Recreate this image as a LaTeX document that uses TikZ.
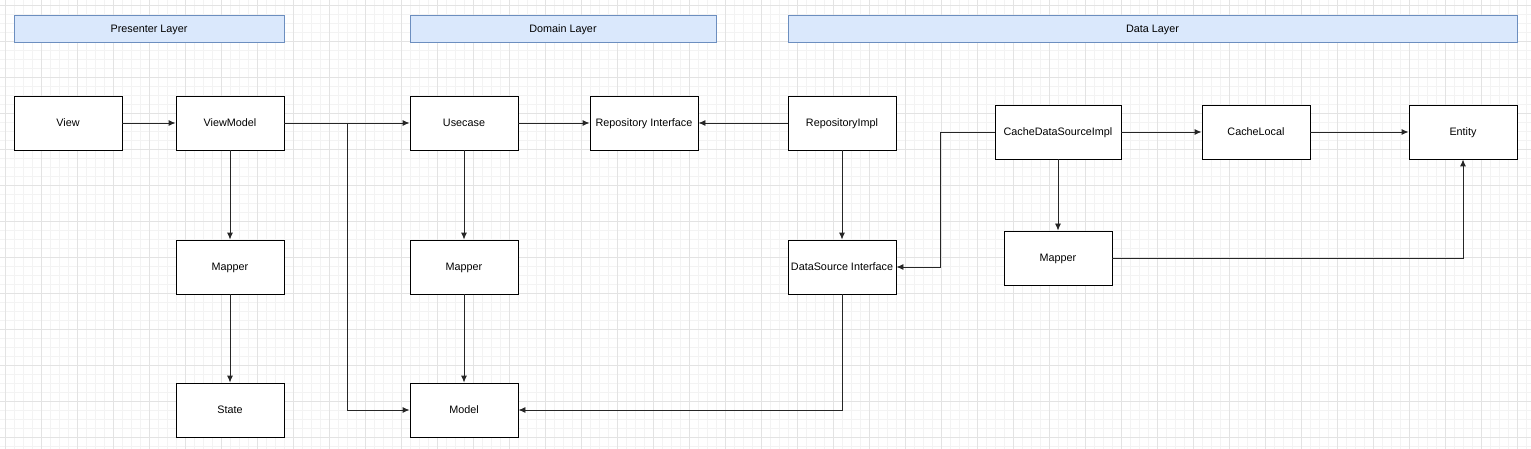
\documentclass[tikz,border=0pt]{standalone}
\usepackage{fontspec}
\setmainfont{Liberation Sans}
\usetikzlibrary{arrows.meta}
\definecolor{hdrfill}{HTML}{DAE8FC}
\definecolor{hdrdraw}{HTML}{6C8EBF}
\definecolor{gridminor}{HTML}{F3F3F3}
\definecolor{gridmajor}{HTML}{E3E3E3}
\tikzset{
  lbl/.style={font=\fontsize{10.8}{13}\selectfont, text height=0.72em, text depth=0pt},
  box/.style={lbl, draw=black, line width=0.9pt, fill=white, minimum width=108pt, minimum height=54pt, inner sep=0pt},
  hdr/.style={lbl, draw=hdrdraw, line width=0.9pt, fill=hdrfill, minimum height=27pt, inner sep=0pt},
  arr/.style={draw=black!85, line width=0.9pt, -{Latex[length=7pt,width=6pt]}},
}
\begin{document}
\begin{tikzpicture}[x=1pt,y=-1pt]
\useasboundingbox (0,0) rectangle (1531,449);
\fill[white] (0,0) rectangle (1531,449);
% grid
\foreach \i in {0,...,170} {
  \pgfmathsetmacro{\gx}{5.5+9*\i}
  \ifdim\gx pt<1531pt \draw[gridminor, line width=0.6pt] (\gx,0) -- (\gx,449); \fi
}
\foreach \i in {0,...,50} {
  \pgfmathsetmacro{\gy}{5.5+9*\i}
  \ifdim\gy pt<449pt \draw[gridminor, line width=0.6pt] (0,\gy) -- (1531,\gy); \fi
}
\foreach \i in {0,...,42} {
  \pgfmathsetmacro{\gx}{5.5+36*\i}
  \ifdim\gx pt<1531pt \draw[gridmajor, line width=0.8pt] (\gx,0) -- (\gx,449); \fi
}
\foreach \i in {0,...,12} {
  \pgfmathsetmacro{\gy}{5.5+36*\i}
  \ifdim\gy pt<449pt \draw[gridmajor, line width=0.8pt] (0,\gy) -- (1531,\gy); \fi
}
% headers
\node[hdr, minimum width=270pt] (hp) at (149,28.5) {Presenter Layer};
\node[hdr, minimum width=306pt] (hd) at (563,28.5) {Domain Layer};
\node[hdr, minimum width=729pt] (hda) at (1152.5,28.5) {Data Layer};
% boxes
\node[box] (view) at (68,123) {View};
\node[box] (vm) at (230,123) {ViewModel};
\node[box] (uc) at (464,123) {Usecase};
\node[box] (ri) at (644,123) {Repository Interface};
\node[box] (rimpl) at (842,123) {RepositoryImpl};
\node[box, minimum width=126pt] (cds) at (1058,132) {CacheDataSourceImpl};
\node[box] (cl) at (1256,132) {CacheLocal};
\node[box] (ent) at (1463,132) {Entity};
\node[box] (m1) at (230,267) {Mapper};
\node[box] (state) at (230,410) {State};
\node[box] (m2) at (464,267) {Mapper};
\node[box] (model) at (464,410) {Model};
\node[box] (dsi) at (842,267) {DataSource Interface};
\node[box] (m3) at (1058,258) {Mapper};
% connectors
\coordinate (br) at (347,123);
\draw[arr] (view) -- (vm);
\draw[arr] (vm) -- (uc);
\draw[arr] (br) |- (model.west);
\draw[arr] (uc) -- (ri);
\draw[arr] (rimpl) -- (ri);
\draw[arr] (vm) -- (m1);
\draw[arr] (m1) -- (state);
\draw[arr] (uc) -- (m2);
\draw[arr] (m2) -- (model);
\draw[arr] (rimpl) -- (dsi);
\draw[arr] (dsi.south) |- (model.east);
\draw[arr] (cds.west) -- ++(-54,0) |- (dsi.east);
\draw[arr] (cds) -- (cl);
\draw[arr] (cl) -- (ent);
\draw[arr] (cds) -- (m3);
\draw[arr] (m3.east) -| (ent.south);
\end{tikzpicture}
\end{document}
